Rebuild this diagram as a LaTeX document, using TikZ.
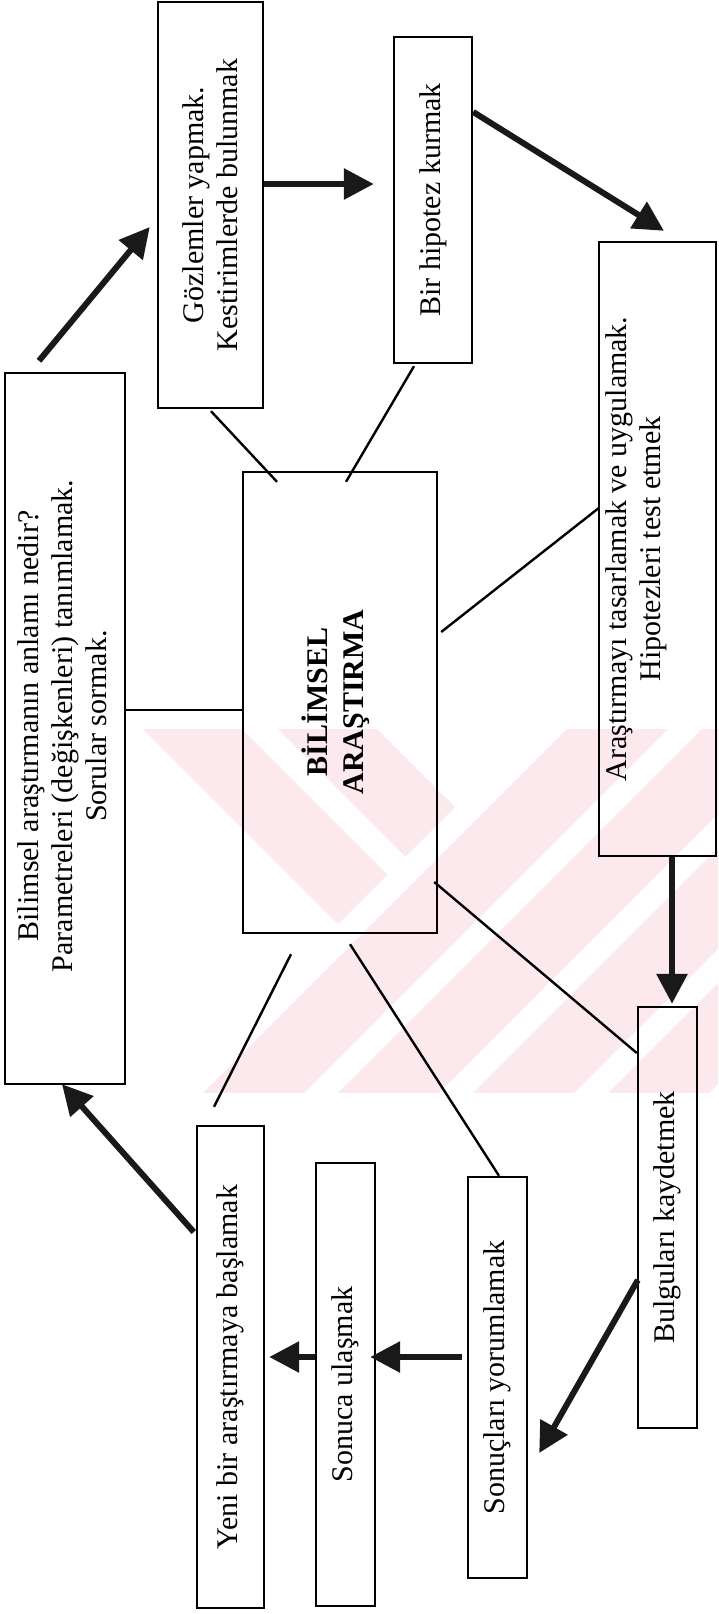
\documentclass[tikz,border=0pt]{standalone}
\usepackage{fontspec}
\setmainfont{Liberation Serif}
\usetikzlibrary{arrows.meta,calc}
\definecolor{wmpink}{RGB}{252,233,237}
\begin{document}
\begin{tikzpicture}[x=1pt,y=-1pt,
  box/.style={draw,line width=2.4pt,rectangle,inner sep=0pt},
  lbl/.style={rotate=90,align=center,inner sep=0pt,font=\fontsize{30}{34}\selectfont},
  title/.style={rotate=90,align=center,inner sep=0pt,font=\fontsize{30}{36}\selectfont\bfseries},
  flow/.style={line width=6pt,draw=black!90,-{Triangle[length=30pt,width=30pt]}},
  link/.style={line width=2.4pt},
  stripe/.style={fill=wmpink}]
\useasboundingbox (0,0) rectangle (718,1614);

% faint striped emblem behind the centre of the chart
\begin{scope}
  \clip (137,729) rectangle (718,1092);
  % left part: falling stripes
  \begin{scope}
    \clip (137,729) -- (533,729) -- (137,1125) -- cycle;
    \fill[stripe] (14,600) -- (113,600) -- (713,1200) -- (614,1200) -- cycle;
    \fill[stripe] (149,600) -- (248,600) -- (848,1200) -- (749,1200) -- cycle;
  \end{scope}
  % right part: rising stripes
  \foreach \c in {1296,1431,1566,1701,1836}{
    \fill[stripe] (\c-600,600) -- (\c+101-600,600) -- (\c+101-1200,1200) -- (\c-1200,1200) -- cycle;
  }
\end{scope}

% boxes
\node[box, minimum width=120pt, minimum height=711pt] (A) at (65,728.5) {};
\node[box, minimum width=105pt, minimum height=406pt] (B) at (210.5,205) {};
\node[box, minimum width=78pt,  minimum height=326pt] (C) at (433,200) {};
\node[box, minimum width=117pt, minimum height=614pt] (D) at (657.5,549) {};
\node[box, minimum width=194pt, minimum height=461pt] (E) at (340,702.5) {};
\node[box, minimum width=59pt,  minimum height=421pt] (F) at (667.5,1217.5) {};
\node[box, minimum width=59pt,  minimum height=401pt] (G) at (497.5,1377.5) {};
\node[box, minimum width=59pt,  minimum height=443pt] (H) at (345.5,1384.5) {};
\node[box, minimum width=67pt,  minimum height=482pt] (I) at (230.5,1367) {};

% texts
\node[lbl] (At) at (62,726) {Bilimsel araştırmanın anlamı nedir?\\Parametreleri (değişkenleri) tanımlamak.\\Sorular sormak.};
\node[lbl] (Bt) at (B) {Gözlemler yapmak.\\Kestirimlerde bulunmak};
\node[lbl] (Ct) at (C) {Bir hipotez kurmak};
\node[lbl] (Dt) at (636,549) {Araştırmayı tasarlamak ve uygulamak.\\Hipotezleri test etmek};
\node[title] (Et) at (336,702) {BİLİMSEL\\ARAŞTIRMA};
\node[lbl] (Ft) at (F) {Bulguları kaydetmek};
\node[lbl] (Gt) at (G) {Sonuçları yorumlamak};
\node[lbl] (Ht) at (H) {Sonuca ulaşmak};
\node[lbl] (It) at (I) {Yeni bir araştırmaya başlamak};

% thin links to the centre
\draw[link] ([yshift=18.5pt]A.east) -- ([yshift=-7.5pt]E.west);
\draw[link] ([xshift=0.5pt,yshift=-2pt]B.south) -- ([xshift=-63pt,yshift=-11pt]E.north);
\draw[link] ([xshift=-19pt,yshift=-2pt]C.south) -- ([xshift=6pt,yshift=-11pt]E.north);
\draw[link] ([xshift=1pt,yshift=41pt]D.west) -- ([xshift=3pt,yshift=70.5pt]E.east);
\draw[link] ([xshift=-4pt,yshift=-179.5pt]E.east) -- ([yshift=164.5pt]F.west);
\draw[link] ([xshift=10pt,yshift=-10pt]E.south) -- ([xshift=1.5pt]G.north);
\draw[link] ([xshift=-49pt,yshift=-20pt]E.south) -- ([xshift=-16.5pt,yshift=18pt]I.north);

% the research cycle
\draw[flow] ([xshift=-26pt,yshift=11pt]A.north) -- ([xshift=-7pt,yshift=-22pt]B.west);
\draw[flow] ([yshift=21pt]B.east) -- ([xshift=-19pt,yshift=16pt]C.west);
\draw[flow] ([yshift=88pt]C.east) -- ([xshift=6.5pt,yshift=10pt]D.north);
\draw[flow] ([xshift=14.5pt]D.south) -- ([xshift=4.5pt,yshift=2pt]F.north);
\draw[flow] ([xshift=1pt,yshift=-62.5pt]F.west) -- ([xshift=11pt,yshift=-75.5pt]G.east);
\draw[flow] ([xshift=-5pt,yshift=20.5pt]G.west) -- ([xshift=-6pt,yshift=27.5pt]H.east);
\draw[flow] ([yshift=27.5pt]H.west) -- ([xshift=4pt,yshift=10pt]I.east);
\draw[flow] ([xshift=-2pt,yshift=135pt]I.west) -- ([xshift=-3pt,yshift=1pt]A.south);
\end{tikzpicture}
\end{document}
